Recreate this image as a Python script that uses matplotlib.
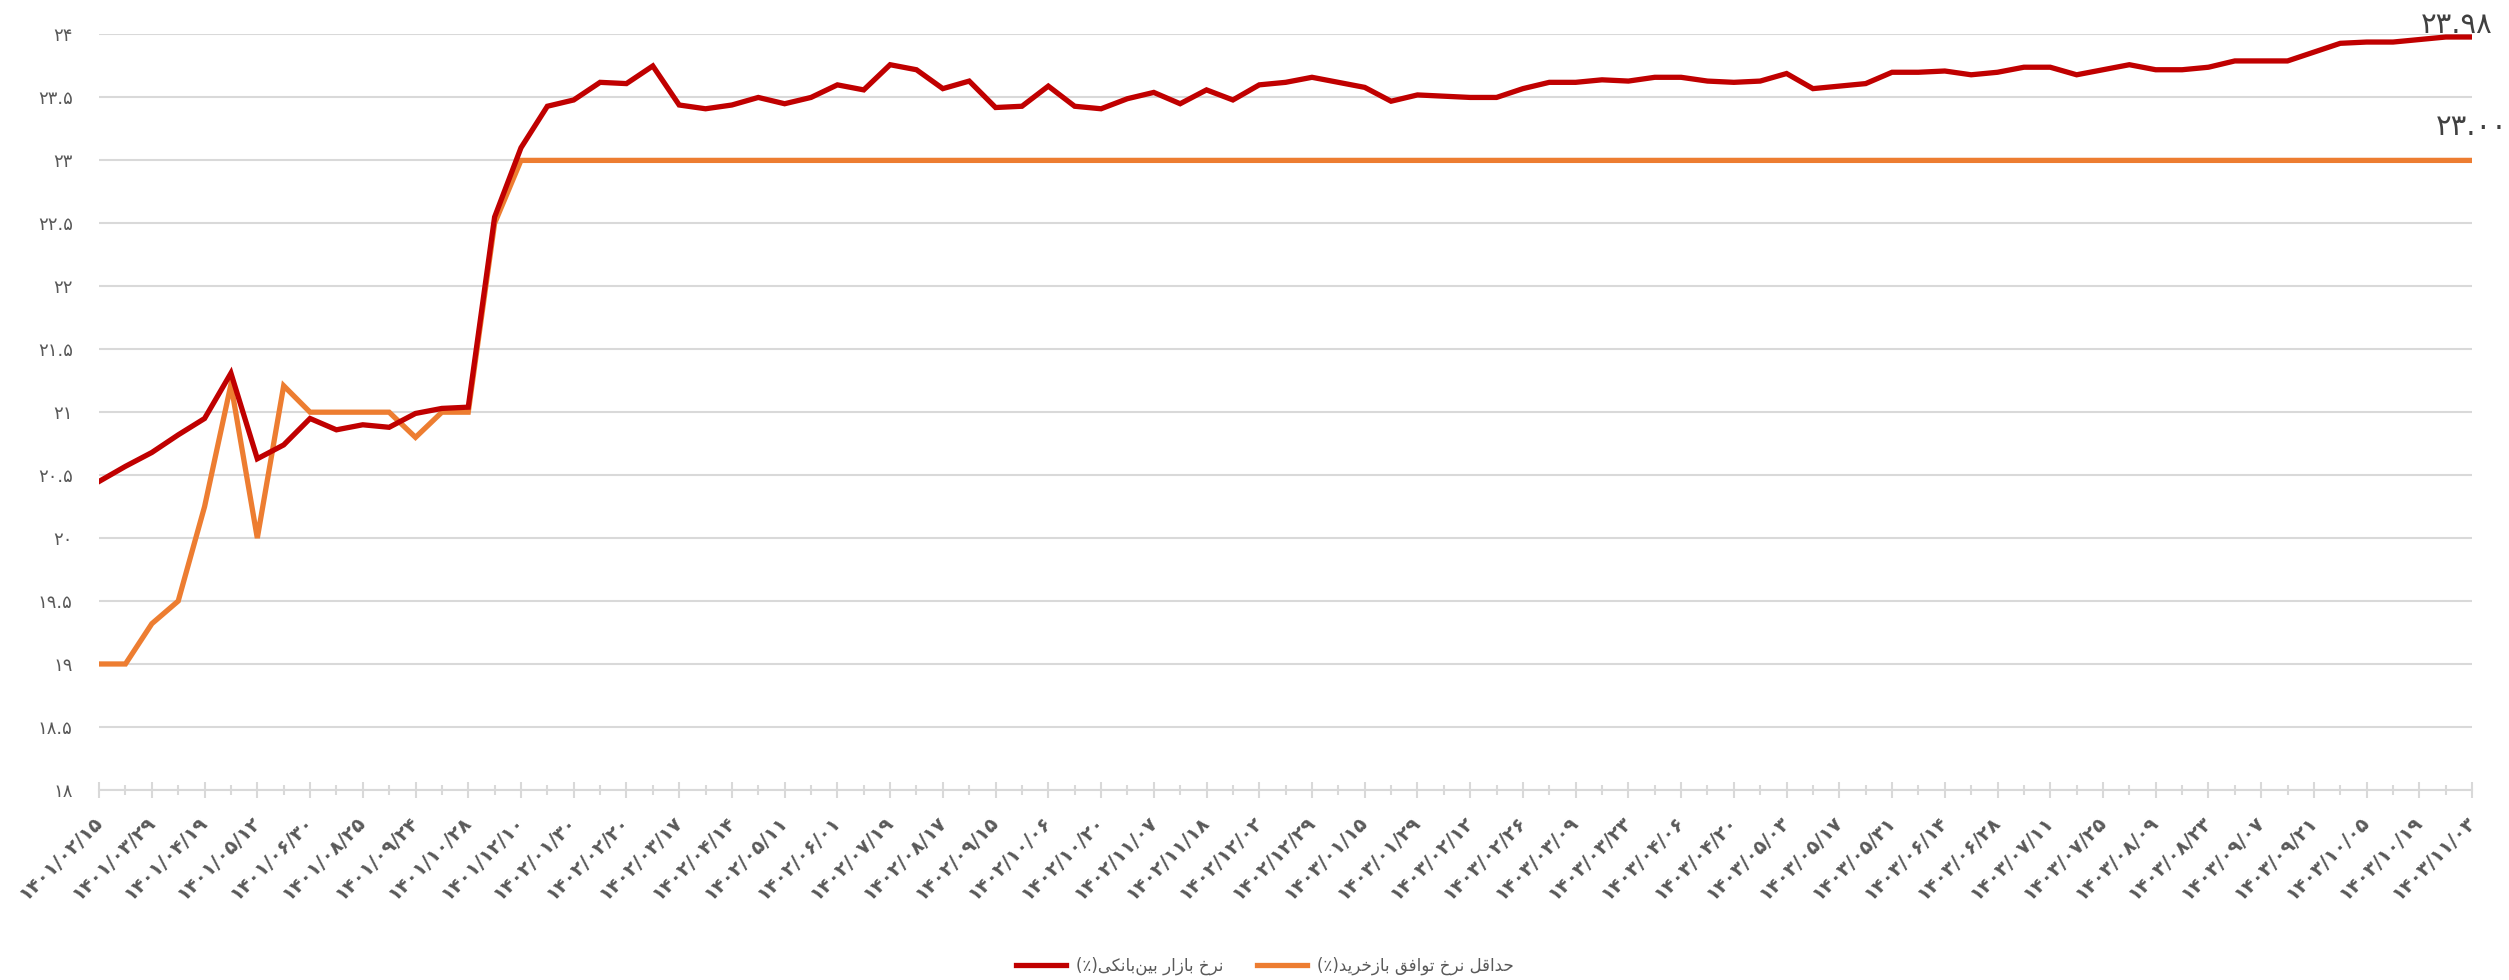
import numpy as np
import matplotlib
matplotlib.use("Agg")
import matplotlib.pyplot as plt

# ---- data ----
interbank_rate = [
    20.45, 20.57, 20.68, 20.82, 20.95, 21.31, 20.63, 20.74, 20.95, 20.86,
    20.90, 20.88, 20.99, 21.03, 21.04, 22.55, 23.10, 23.43, 23.48, 23.62,
    23.61, 23.75, 23.44, 23.41, 23.44, 23.50, 23.45, 23.50, 23.60, 23.56,
    23.76, 23.72, 23.57, 23.63, 23.42, 23.43, 23.59, 23.43, 23.41, 23.49,
    23.54, 23.45, 23.56, 23.48, 23.60, 23.62, 23.66, 23.62, 23.58, 23.47,
    23.52, 23.51, 23.50, 23.50, 23.57, 23.62, 23.62, 23.64, 23.63, 23.66,
    23.66, 23.63, 23.62, 23.63, 23.69, 23.57, 23.59, 23.61, 23.70, 23.70,
    23.71, 23.68, 23.70, 23.74, 23.74, 23.68, 23.72, 23.76, 23.72, 23.72,
    23.74, 23.79, 23.79, 23.79, 23.86, 23.93, 23.94, 23.94, 23.96, 23.98,
    23.98,
]
repo_min_rate = [
    19.00, 19.00, 19.32, 19.50, 20.25, 21.22, 20.00, 21.21, 21.00, 21.00,
    21.00, 21.00, 20.80, 21.00, 21.00, 22.50,
] + [23.00] * 75

# every second category carries a label
date_labels = [
    "1401/02/15", "1401/03/29", "1401/04/19", "1401/05/12", "1401/06/30",
    "1401/08/25", "1401/09/24", "1401/10/28", "1401/12/10", "1402/01/30",
    "1402/02/20", "1402/03/17", "1402/04/14", "1402/05/11", "1402/06/01",
    "1402/07/19", "1402/08/17", "1402/09/15", "1402/10/06", "1402/10/20",
    "1402/11/07", "1402/11/18", "1402/12/02", "1402/12/29", "1403/01/15",
    "1403/01/29", "1403/02/12", "1403/02/26", "1403/03/09", "1403/03/23",
    "1403/04/06", "1403/04/20", "1403/05/03", "1403/05/17", "1403/05/31",
    "1403/06/14", "1403/06/28", "1403/07/11", "1403/07/25", "1403/08/09",
    "1403/08/23", "1403/09/07", "1403/09/21", "1403/10/05", "1403/10/19",
    "1403/11/03",
]
y_ticks = [18, 18.5, 19, 19.5, 20, 20.5, 21, 21.5, 22, 22.5, 23, 23.5, 24]

interbank_name = "نرخ بازار بین\u200cبانکی(٪)"
repo_name = "حداقل نرخ توافق بازخرید(٪)"

RED = "#C00000"
ORANGE = "#ED7D31"
GRID = "#D9D9D9"
TEXT = "#595959"

# ---- minimal persian shaping (matplotlib has no complex text layout) ----
FORMS = {  # isolated, final, initial, medial
    "ا": ("\uFE8D", "\uFE8E", None, None),
    "ب": ("\uFE8F", "\uFE90", "\uFE91", "\uFE92"),
    "ت": ("\uFE95", "\uFE96", "\uFE97", "\uFE98"),
    "ح": ("\uFEA1", "\uFEA2", "\uFEA3", "\uFEA4"),
    "خ": ("\uFEA5", "\uFEA6", "\uFEA7", "\uFEA8"),
    "د": ("\uFEA9", "\uFEAA", None, None),
    "ر": ("\uFEAD", "\uFEAE", None, None),
    "ز": ("\uFEAF", "\uFEB0", None, None),
    "ف": ("\uFED1", "\uFED2", "\uFED3", "\uFED4"),
    "ق": ("\uFED5", "\uFED6", "\uFED7", "\uFED8"),
    "ل": ("\uFEDD", "\uFEDE", "\uFEDF", "\uFEE0"),
    "ن": ("\uFEE5", "\uFEE6", "\uFEE7", "\uFEE8"),
    "و": ("\uFEED", "\uFEEE", None, None),
    "ی": ("\uFBFC", "\uFBFD", "\uFBFE", "\uFBFF"),
    "ک": ("\uFB8E", "\uFB8F", "\uFB90", "\uFB91"),
}


def shape_fa(text):
    out = []
    for k, ch in enumerate(text):
        if ch not in FORMS:
            if ch != "\u200c":
                out.append(ch)
            continue
        prev = text[k - 1] if k > 0 else ""
        nxt = text[k + 1] if k + 1 < len(text) else ""
        iso, fin, ini, med = FORMS[ch]
        join_prev = prev in FORMS and FORMS[prev][2] is not None
        join_next = ini is not None and nxt in FORMS
        if join_prev and join_next:
            out.append(med)
        elif join_prev:
            out.append(fin)
        elif join_next:
            out.append(ini)
        else:
            out.append(iso)
    visual = "".join(reversed(out))
    return visual.translate(str.maketrans("()", ")("))


def fa_digits(s):
    return str(s).translate(str.maketrans("0123456789", "۰۱۲۳۴۵۶۷۸۹"))


def fmt_tick(v):
    return fa_digits(f"{v:g}")


plt.rcParams["font.family"] = ["DejaVu Sans"]

x = np.arange(len(interbank_rate))

fig = plt.figure(figsize=(25.09, 9.8), dpi=100)
ax = fig.add_axes([0.0395, 0.194, 0.9458, 0.7708])

ax.plot(x, interbank_rate, color=RED, lw=3.8, solid_joinstyle="miter",
        label=shape_fa(interbank_name), zorder=3)
ax.plot(x, repo_min_rate, color=ORANGE, lw=3.8, solid_joinstyle="miter",
        label=shape_fa(repo_name), zorder=2)

ax.set_xlim(0, len(x) - 1)
ax.set_ylim(18, 24)

ax.set_yticks(y_ticks)
ax.set_yticklabels([fmt_tick(v) for v in y_ticks], fontsize=13, color=TEXT)
ax.grid(axis="y", color=GRID, lw=1.5)
ax.set_axisbelow(True)

ax.set_xticks(x[::2])
ax.set_xticks(x, minor=True)
ax.set_xticklabels([fa_digits(d) for d in date_labels], rotation=45,
                   ha="right", va="center", rotation_mode="anchor",
                   fontsize=14, fontweight="bold", color=TEXT)

ax.tick_params(axis="y", length=0, pad=19)
ax.tick_params(axis="x", which="major", direction="inout", length=11,
               width=1.5, color=GRID, pad=16)
ax.tick_params(axis="x", which="minor", direction="inout", length=7,
               width=1.5, color=GRID)

for side in ("top", "right", "left"):
    ax.spines[side].set_visible(False)
ax.spines["bottom"].set_color(GRID)
ax.spines["bottom"].set_linewidth(1.5)

# end-of-series value labels
ax.annotate(fa_digits(f"{interbank_rate[-1]:.2f}"), (x[-1], interbank_rate[-1]),
            xytext=(15, 3), textcoords="offset points", ha="right",
            va="baseline", fontsize=21, color="#404040", annotation_clip=False)
ax.annotate(fa_digits(f"{repo_min_rate[-1]:.2f}"), (x[-1], repo_min_rate[-1]),
            xytext=(0, 18), textcoords="offset points", ha="center",
            va="baseline", fontsize=21, color="#404040", annotation_clip=False)

leg = fig.legend(loc="center", bbox_to_anchor=(0.504, 0.014), ncol=2,
                 frameon=False, fontsize=12, handlelength=3,
                 columnspacing=2, handletextpad=0.6)
for t in leg.get_texts():
    t.set_color(TEXT)

fig.savefig("out.png", dpi=100)
